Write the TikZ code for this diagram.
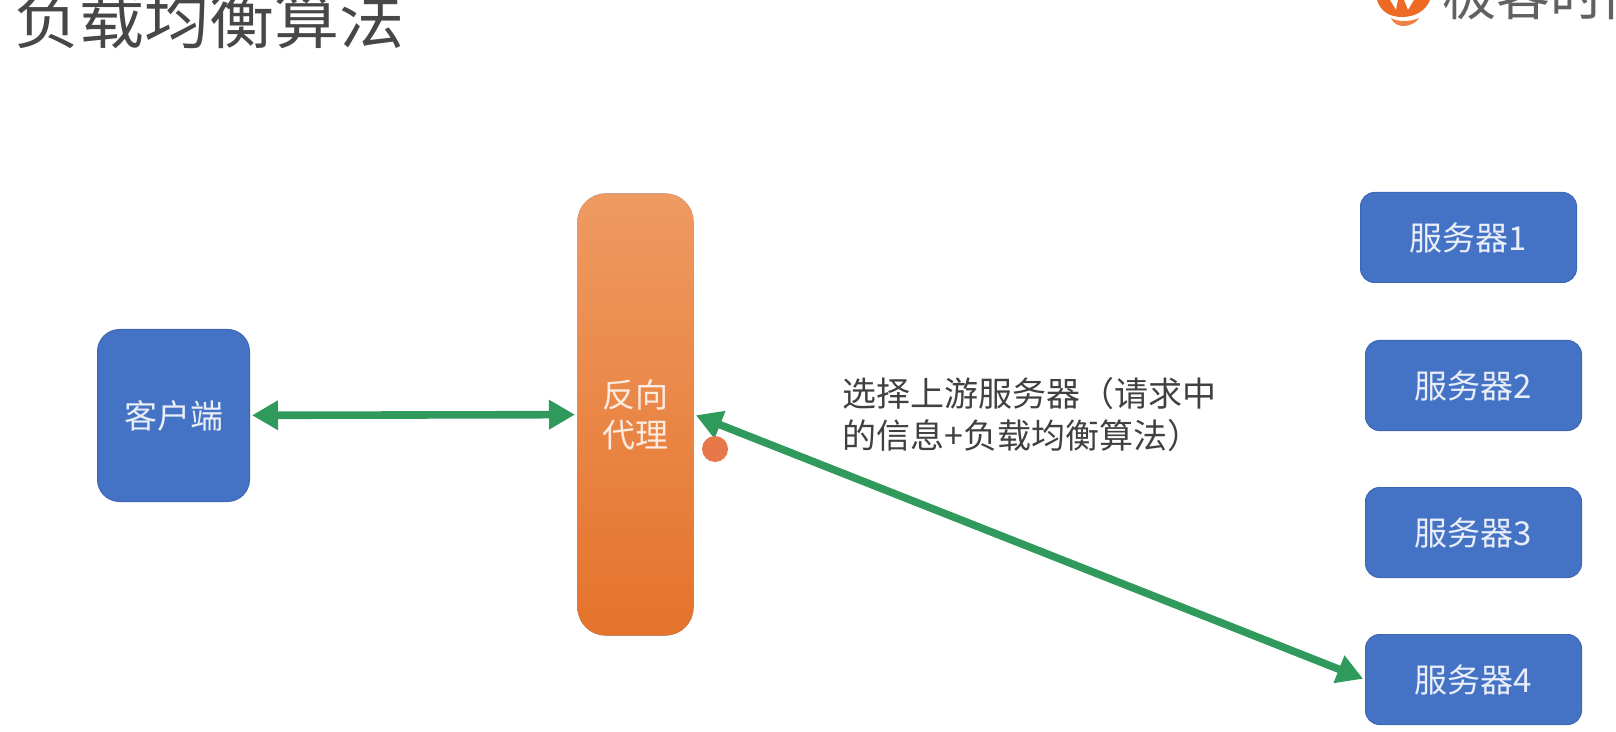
\documentclass[tikz,border=0pt]{standalone}
\usepackage{fontspec}
\setmainfont{Noto Sans CJK SC}
\usepackage{tikz}
\usetikzlibrary{arrows.meta}
\definecolor{boxblue}{HTML}{4472C4}
\definecolor{boxedge}{HTML}{3E68B4}
\definecolor{proxytop}{HTML}{EE9A62}
\definecolor{proxybot}{HTML}{E5732B}
\definecolor{arrowgreen}{HTML}{2F9A5C}
\definecolor{logoorange}{HTML}{EE6A24}
\definecolor{pointer}{HTML}{E8784A}

\begin{document}
\begin{tikzpicture}[x=0.5pt, y=-0.5pt,
    srv/.style={rectangle, rounded corners=7pt, fill=boxblue, draw=boxedge, line width=0.5pt, text=white!88!boxblue,
      minimum width=108pt, minimum height=45pt, inner sep=0pt, anchor=north west, font=\fontsize{16.5}{20}\selectfont},
    link/.style={arrowgreen, line width=3.8pt, {Triangle[length=13pt,width=14pt]}-{Triangle[length=13pt,width=14pt]}, shorten <=1pt, shorten >=1pt}]
  \useasboundingbox (0,0) rectangle (1616,732);
  \clip (0,0) rectangle (1616,732);
  \node[anchor=base west, inner sep=0pt, text=black!72, font=\fontsize{32.5}{36}\selectfont] (title) at (14,44) {负载均衡算法};
  % logo, cut off by the page
  \fill[logoorange] (1377,0) .. controls (1380,10) and (1388,17) .. (1402,17) .. controls (1416,17) and (1426,10) .. (1430,0) -- (1414,0) -- (1408,10) -- (1404,0) -- (1398,0) -- (1396,10) -- (1390,0) -- cycle;
  \fill[logoorange!85!white] (1391,18) .. controls (1398,22) and (1410,22) .. (1419,18) .. controls (1415,26) and (1396,31) .. (1391,18) -- cycle;
  \node[anchor=base west, inner sep=0pt, text=black!62, font=\fontsize{27}{30}\selectfont] (logotext) at (1442,16) {极客时间};

  \node[srv, rounded corners=11pt, minimum width=76pt, minimum height=86pt] (client) at (97,329) {客户端};
  \node[srv, rounded corners=14pt, minimum width=58pt, minimum height=221pt, draw=none, top color=proxytop, bottom color=proxybot,
    align=center, text=white!80!proxytop, font=\fontsize{16.5}{20}\selectfont] (proxy) at (577,193) {反向\\代理};
  \node[srv] (srv1) at (1360,192) {服务器1};
  \node[srv] (srv2) at (1365,340) {服务器2};
  \node[srv] (srv3) at (1365,487) {服务器3};
  \node[srv] (srv4) at (1365,634) {服务器4};

  \draw[link] (client) -- (proxy);
  \draw[link] (proxy.east) -- (srv4.west);
  \node[anchor=north west, inner sep=0pt, align=left, text=black!75, font=\fontsize{17}{21}\selectfont] (note) at (842,377) {选择上游服务器（请求中\\的信息+负载均衡算法）};
  \node[circle, fill=pointer, minimum size=13pt, inner sep=0pt] (dot) at (715,449) {};
\end{tikzpicture}
\end{document}
